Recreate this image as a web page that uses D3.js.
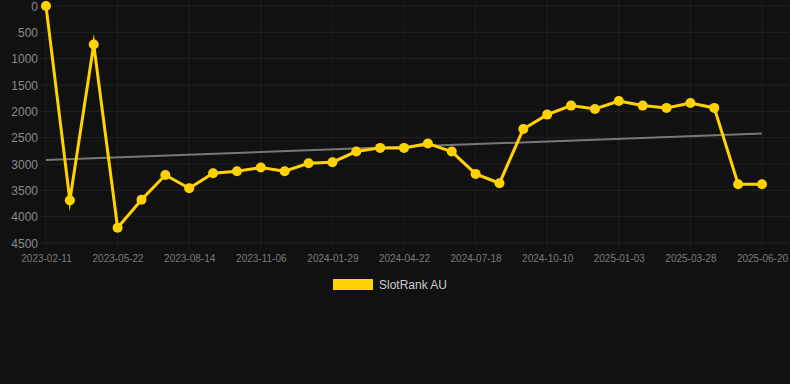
<!DOCTYPE html>
<html><head><meta charset="utf-8">
<script src="https://cdn.jsdelivr.net/npm/d3@7/dist/d3.min.js"></script>
<style>
html,body{margin:0;padding:0;background:#111111;}
svg{display:block;font-family:"Liberation Sans",Arial,Helvetica,sans-serif;}
</style></head>
<body>
<svg id="c" width="790" height="384"></svg>
<script>
const dates = ["2023-02-11","2023-03-15","2023-04-18","2023-05-22","2023-06-19","2023-07-17","2023-08-14","2023-09-11","2023-10-09","2023-11-06","2023-12-04","2024-01-01","2024-01-29","2024-02-26","2024-03-25","2024-04-22","2024-05-20","2024-06-19","2024-07-18","2024-08-15","2024-09-12","2024-10-10","2024-11-07","2024-12-06","2025-01-03","2025-01-31","2025-02-28","2025-03-28","2025-04-25","2025-05-23","2025-06-20"];
const ranks = [0,3690,730,4210,3680,3210,3460,3175,3137,3068,3137,2985,2966,2764,2694,2694,2612,2764,3188,3365,2334,2062,1891,1954,1803,1891,1935,1841,1935,3384,3384];
const trend = [2922,2423];
const xTickLabels = ["2023-02-11","2023-05-22","2023-08-14","2023-11-06","2024-01-29","2024-04-22","2024-07-18","2024-10-10","2025-01-03","2025-03-28","2025-06-20"];
const yTicks = [0,500,1000,1500,2000,2500,3000,3500,4000,4500];
const seriesName = "SlotRank AU";

(function () {
const svg = d3.select("#c");
const pL = 46, pR = 762, pT = 6, pB = 243;
const x = d3.scalePoint().domain(dates).range([pL, pR]);
const y = d3.scaleLinear().domain([0, 4500]).range([pT, pB]);

// horizontal grid
svg.append("g").selectAll("line").data(yTicks).join("line")
  .attr("x1", 40).attr("x2", 790)
  .attr("y1", d => y(d)).attr("y2", d => y(d))
  .attr("stroke", "#222").attr("stroke-width", 1);
// vertical grid
svg.append("g").selectAll("line").data(xTickLabels).join("line")
  .attr("x1", d => x(d)).attr("x2", d => x(d))
  .attr("y1", 0).attr("y2", pB + 7)
  .attr("stroke", "#1e1e1e").attr("stroke-width", 1);

// y axis
const yAxis = svg.append("g").attr("transform", `translate(${pL - 8},0)`)
  .call(d3.axisLeft(y).tickValues(yTicks).tickSize(0).tickPadding(0).tickFormat(d3.format("d")));
yAxis.select(".domain").remove();
yAxis.selectAll("text").attr("fill", "#8a8a8a").attr("font-size", "12px").attr("dy", "0.35em");

// x axis
const xAxis = svg.append("g").attr("transform", `translate(0,${pB})`)
  .call(d3.axisBottom(x).tickValues(xTickLabels).tickSize(0).tickPadding(12));
xAxis.select(".domain").remove();
xAxis.selectAll("text").attr("fill", "#7a7a7a").attr("font-size", "10px");

// trend line
svg.append("line")
  .attr("x1", x(dates[0])).attr("x2", x(dates[dates.length - 1]))
  .attr("y1", y(trend[0])).attr("y2", y(trend[1]))
  .attr("stroke", "#777").attr("stroke-width", 2);

// series line
const line = d3.line().x((d, i) => x(dates[i])).y(d => y(d));
svg.append("path").datum(ranks)
  .attr("d", line)
  .attr("fill", "none").attr("stroke", "#FFD200").attr("stroke-width", 3)
  .attr("stroke-linejoin", "miter").attr("stroke-miterlimit", 10);

svg.append("g").selectAll("circle").data(ranks).join("circle")
  .attr("cx", (d, i) => x(dates[i])).attr("cy", d => y(d)).attr("r", 5)
  .attr("fill", "#FFD200");

// legend
svg.append("rect").attr("x", 333).attr("y", 279).attr("width", 40).attr("height", 11).attr("fill", "#FFD200");
svg.append("text").attr("x", 379).attr("y", 289).attr("fill", "#cccccc").attr("font-size", "12px").text(seriesName);
})();
</script>
</body></html>
